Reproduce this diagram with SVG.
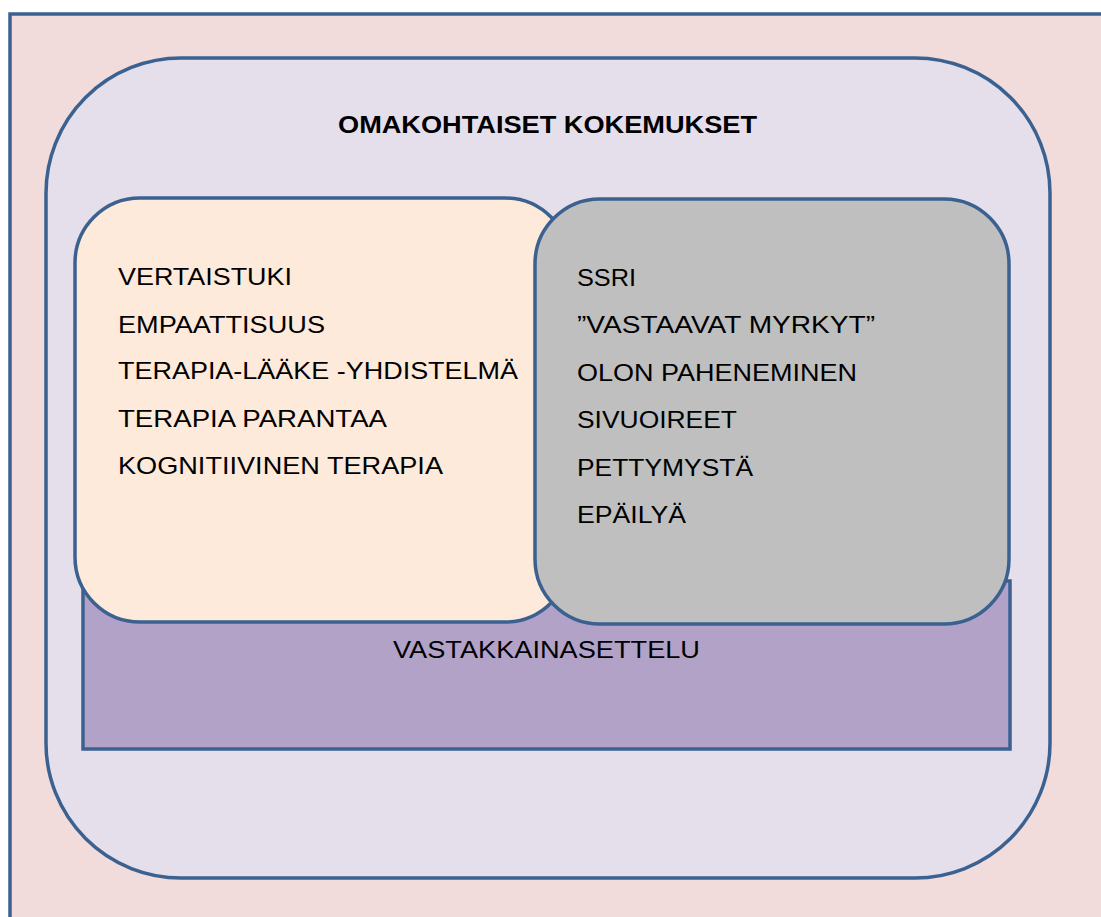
<svg xmlns="http://www.w3.org/2000/svg" width="1101" height="917" viewBox="0 0 1101 917">
  <style>
    .shape { stroke: #3b6190; stroke-width: 3.5; }
    .t { font-family: "Liberation Sans", Arial, sans-serif; font-size: 24px; fill: #000; }
    .title { font-weight: bold; }
  </style>
  <rect x="0" y="0" width="1101" height="917" fill="#ffffff"/>
  <g id="frame">
    <rect class="shape" x="10" y="14" width="1110" height="920" fill="#f2dcdb"/>
  </g>
  <g id="omakohtaiset">
    <rect class="shape" x="46" y="58" width="1004" height="820" rx="135" ry="135" fill="#e5dfec"/>
    <text class="t title" x="338" y="133" textLength="419" lengthAdjust="spacingAndGlyphs">OMAKOHTAISET KOKEMUKSET</text>
  </g>
  <g id="vastakkainasettelu">
    <rect class="shape" x="83" y="581" width="927" height="168" fill="#b2a2c7"/>
    <text class="t" x="393" y="658" textLength="307" lengthAdjust="spacingAndGlyphs">VASTAKKAINASETTELU</text>
  </g>
  <g id="positive">
    <rect class="shape" x="75" y="198" width="495" height="424" rx="65" ry="65" fill="#fdeada"/>
    <text class="t" x="118" y="285" textLength="174" lengthAdjust="spacingAndGlyphs">VERTAISTUKI</text>
    <text class="t" x="118" y="333" textLength="207" lengthAdjust="spacingAndGlyphs">EMPAATTISUUS</text>
    <text class="t" x="118" y="379" textLength="400" lengthAdjust="spacingAndGlyphs">TERAPIA-LÄÄKE -YHDISTELMÄ</text>
    <text class="t" x="118" y="427" textLength="269" lengthAdjust="spacingAndGlyphs">TERAPIA PARANTAA</text>
    <text class="t" x="118" y="474" textLength="325" lengthAdjust="spacingAndGlyphs">KOGNITIIVINEN TERAPIA</text>
  </g>
  <g id="negative">
    <rect class="shape" x="535" y="199" width="474" height="425" rx="65" ry="65" fill="#bfbfbf"/>
    <text class="t" x="577" y="286" textLength="59" lengthAdjust="spacingAndGlyphs">SSRI</text>
    <text class="t" x="577" y="333" textLength="298" lengthAdjust="spacingAndGlyphs">”VASTAAVAT MYRKYT”</text>
    <text class="t" x="577" y="381" textLength="280" lengthAdjust="spacingAndGlyphs">OLON PAHENEMINEN</text>
    <text class="t" x="577" y="428" textLength="160" lengthAdjust="spacingAndGlyphs">SIVUOIREET</text>
    <text class="t" x="577" y="476" textLength="176" lengthAdjust="spacingAndGlyphs">PETTYMYSTÄ</text>
    <text class="t" x="577" y="523" textLength="109" lengthAdjust="spacingAndGlyphs">EPÄILYÄ</text>
  </g>
  <g id="connectors"/>
</svg>
